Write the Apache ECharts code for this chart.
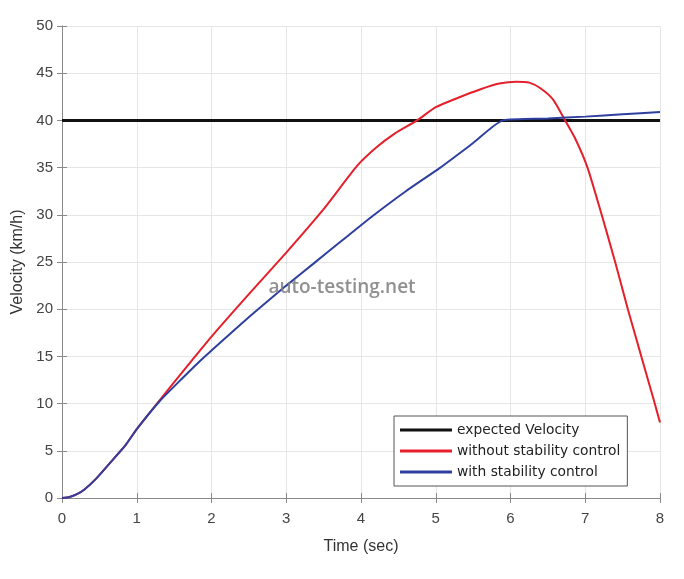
<!DOCTYPE html>
<html>
<head>
<meta charset="utf-8">
<script src="https://cdn.jsdelivr.net/npm/echarts@6/dist/echarts.min.js"></script>
<style>html,body{margin:0;padding:0;background:#fff}#c{width:684px;height:579px}</style>
</head>
<body>
<div id="c"></div>
<script>
const seriesNames = ['expected Velocity', 'without stability control', 'with stability control'];
const expectedTime = [0, 8];
const expectedVel = [40, 40];
const redTime = [0, 0.1, 0.2, 0.3, 0.45, 0.64, 0.85, 1.0, 1.3, 1.73, 2.0, 2.5, 3.0, 3.5, 3.95, 4.2, 4.45, 4.75, 5.0, 5.3, 5.6, 5.85, 6.08, 6.25, 6.4, 6.57, 6.73, 6.87, 7.03, 7.22, 7.4, 7.57, 7.75, 7.93, 8.0];
const redVel = [0, 0.1, 0.4, 0.9, 2.0, 3.7, 5.6, 7.3, 10.3, 14.5, 17.1, 21.6, 26.0, 30.6, 35.2, 37.1, 38.6, 40.0, 41.4, 42.4, 43.3, 43.9, 44.1, 44.0, 43.4, 42.2, 40.0, 38.0, 35.0, 30.0, 25.0, 20.0, 15.0, 10.0, 8.0];
const blueTime = [0, 0.1, 0.2, 0.3, 0.45, 0.64, 0.85, 1.0, 1.3, 1.6, 1.9, 2.25, 2.58, 3.0, 3.36, 3.75, 4.16, 4.6, 5.06, 5.5, 5.9, 6.5, 7.0, 7.5, 8.0];
const blueVel = [0, 0.1, 0.4, 0.9, 2.0, 3.7, 5.6, 7.3, 10.2, 12.6, 14.9, 17.4, 19.7, 22.5, 24.8, 27.3, 29.9, 32.5, 35.0, 37.6, 40.0, 40.2, 40.4, 40.65, 40.9];
const xTicks = {min: 0, max: 8, interval: 1};
const yTicks = {min: 0, max: 50, interval: 5};

const zip = (a, b) => a.map((t, i) => [t, b[i]]);
const chart = echarts.init(document.getElementById('c'), null, {renderer: 'canvas'});
const font = 'Liberation Sans, Arial, sans-serif';
const axisLine = {show: true, lineStyle: {color: '#8a8a8a', width: 1}};
const tick = {show: true, inside: true, length: 5, lineStyle: {color: '#8a8a8a'}};
chart.setOption({
  animation: false,
  backgroundColor: '#fff',
  grid: {left: 62, right: 24, top: 26, bottom: 81},
  xAxis: [{
    type: 'value', min: xTicks.min, max: xTicks.max, interval: xTicks.interval,
    name: 'Time (sec)', nameLocation: 'middle', nameGap: 41,
    nameTextStyle: {fontFamily: font, fontSize: 16, color: '#333'},
    axisLine: axisLine, axisTick: tick,
    axisLabel: {fontFamily: font, fontSize: 15, color: '#444', margin: 13},
    splitLine: {show: true, lineStyle: {color: '#e6e6e6'}}
  }, {
    type: 'value', position: 'top', min: xTicks.min, max: xTicks.max, interval: xTicks.interval,
    axisLine: axisLine, axisTick: tick, axisLabel: {show: false}, splitLine: {show: false}
  }],
  yAxis: [{
    type: 'value', min: yTicks.min, max: yTicks.max, interval: yTicks.interval,
    name: 'Velocity (km/h)', nameLocation: 'middle', nameGap: 34,
    nameTextStyle: {fontFamily: font, fontSize: 16, color: '#333'},
    axisLine: axisLine, axisTick: tick,
    axisLabel: {fontFamily: font, fontSize: 15, color: '#444', margin: 9},
    splitLine: {show: true, lineStyle: {color: '#e6e6e6'}}
  }, {
    type: 'value', position: 'right', min: yTicks.min, max: yTicks.max, interval: yTicks.interval,
    axisLine: axisLine, axisTick: tick, axisLabel: {show: false}, splitLine: {show: false}
  }],
  legend: {
    orient: 'vertical', left: 394, top: 416,
    data: seriesNames,
    icon: 'rect', itemWidth: 52, itemHeight: 3, itemGap: 7,
    padding: [7, 7, 7, 6],
    borderColor: '#555', borderWidth: 1, backgroundColor: '#fff',
    textStyle: {fontFamily: 'DejaVu Sans, sans-serif', fontSize: 13.8, color: '#222'}
  },
  graphic: [{
    type: 'text', left: 'center', top: 278, z: 100,
    style: {text: 'auto-testing.net', font: '600 19px "Open Sans", sans-serif', fill: 'rgba(125,125,125,0.85)'}
  }],
  series: [{
    name: seriesNames[0], type: 'line', data: zip(expectedTime, expectedVel),
    showSymbol: false, symbol: 'none', lineStyle: {color: '#111', width: 3}, itemStyle: {color: '#111'}, z: 2
  }, {
    name: seriesNames[1], type: 'line', data: zip(redTime, redVel), smooth: 0.2,
    showSymbol: false, symbol: 'none', lineStyle: {color: '#e3202b', width: 2}, itemStyle: {color: '#e3202b'}, z: 3
  }, {
    name: seriesNames[2], type: 'line', data: zip(blueTime, blueVel), smooth: 0.2,
    showSymbol: false, symbol: 'none', lineStyle: {color: '#2e3f9e', width: 2}, itemStyle: {color: '#2e3f9e'}, z: 4
  }]
});
</script>
</body>
</html>
